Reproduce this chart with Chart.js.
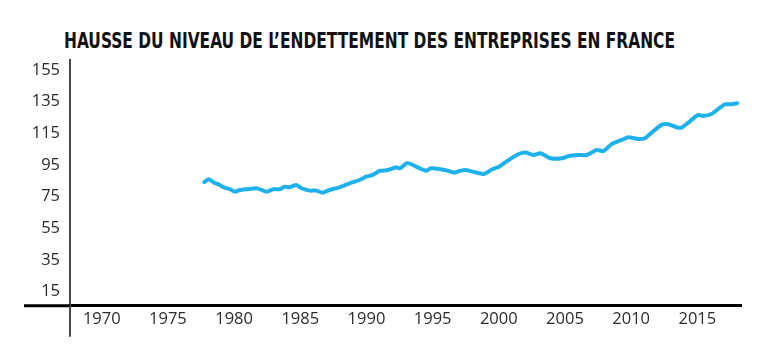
<!DOCTYPE html>
<html><head><meta charset="utf-8">
<script src="https://cdn.jsdelivr.net/npm/chart.js@4"></script>
<style>
html,body{margin:0;padding:0;background:#fff;}
#wrap{position:relative;width:768px;height:352px;overflow:hidden;}
#title{position:absolute;left:64px;top:30px;font-family:"Liberation Sans Narrow","DejaVu Sans Condensed",sans-serif;font-weight:bold;font-size:21.5px;color:#111;white-space:nowrap;transform-origin:0 0;line-height:1;}
canvas{position:absolute;left:0;top:0;}
</style></head><body>
<div id="wrap"><div id="title">HAUSSE DU NIVEAU DE L’ENDETTEMENT DES ENTREPRISES EN FRANCE</div><canvas id="c" width="768" height="352"></canvas></div>
<script>
const years = [1977.74,1978.07,1978.56,1978.82,1979.19,1979.69,1980.07,1980.44,1980.95,1981.70,1982.08,1982.45,1982.96,1983.45,1983.83,1984.21,1984.71,1985.09,1985.71,1986.22,1986.67,1987.22,1987.97,1988.85,1989.47,1989.98,1990.48,1990.98,1991.61,1992.23,1992.54,1993.04,1993.36,1993.87,1994.49,1994.87,1995.49,1996.13,1996.62,1997.13,1997.50,1998.01,1998.88,1999.51,2000.01,2000.76,2001.51,2002.02,2002.64,2003.15,2003.90,2004.78,2005.28,2006.03,2006.66,2007.41,2007.91,2008.54,2009.29,2009.79,2010.54,2011.05,2011.55,2012.30,2012.80,2013.43,2013.81,2014.31,2015.06,2015.43,2016.07,2016.56,2017.07,2017.57,2018.02];
const debtLevel = [84.1,86.0,83.4,82.8,80.9,79.7,78.1,79.2,79.7,80.3,79.2,78.1,79.7,79.7,81.3,80.9,82.4,80.3,78.8,78.8,77.5,79.2,80.9,83.8,85.5,87.6,88.7,91.2,91.8,93.5,92.9,96.1,95.6,93.5,91.4,92.9,92.5,91.4,90.1,91.4,91.8,90.8,89.3,92.3,93.9,98.2,101.9,102.8,101.3,102.4,99.2,99.2,100.7,101.3,101.3,104.5,103.8,108.3,110.8,112.5,111.4,111.9,115.4,120.3,120.7,118.8,118.6,121.7,126.6,126.0,127.2,130.2,133.3,133.3,134.0];
const xTickLabels = [1970,1975,1980,1985,1990,1995,2000,2005,2010,2015];
const yTickLabels = [15,35,55,75,95,115,135,155];
const xRange = [1967.6, 2018.3];
const yRange = [6.1, 161.3];

const axisExtension = {
  id:'axisExtension',
  afterDraw(chart){
    const c = chart.ctx, a = chart.chartArea;
    c.save();
    c.strokeStyle = '#000'; c.lineWidth = 3;
    c.beginPath(); c.moveTo(24, a.bottom); c.lineTo(a.left, a.bottom); c.stroke();
    c.strokeStyle = '#4a4a4a'; c.lineWidth = 2;
    c.beginPath(); c.moveTo(a.left, a.bottom); c.lineTo(a.left, a.bottom + 31); c.stroke();
    c.restore();
  }
};

const tickFont = {family:'"Open Sans", sans-serif', size:16.5};
new Chart(document.getElementById('c'), {
  type:'line',
  data:{datasets:[{
    data: years.map((x,i)=>({x:x, y:debtLevel[i]})),
    borderColor:'#1fb1ec', borderWidth:4, pointRadius:0, tension:0.2,
    borderCapStyle:'round', borderJoinStyle:'round', fill:false
  }]},
  options:{
    responsive:false, animation:false, devicePixelRatio:1,
    layout:{padding:{top:60,right:27,bottom:0,left:0}},
    plugins:{legend:{display:false}, tooltip:{enabled:false}, title:{display:false}},
    scales:{
      x:{
        type:'linear', min:xRange[0], max:xRange[1],
        grid:{display:false, drawTicks:false},
        border:{display:true, color:'#000', width:3},
        afterBuildTicks:s=>{ s.ticks = xTickLabels.map(v=>({value:v})); },
        afterFit:s=>{ s.height = 46.3; },
        ticks:{padding:4, color:'#2b2b2b', font:tickFont, autoSkip:false, maxRotation:0, callback:v=>String(v)}
      },
      y:{
        type:'linear', min:yRange[0], max:yRange[1],
        grid:{display:false, drawTicks:false},
        border:{display:true, color:'#4a4a4a', width:2},
        afterBuildTicks:s=>{ s.ticks = yTickLabels.map(v=>({value:v})); },
        afterFit:s=>{ s.width = 70; },
        ticks:{padding:10, color:'#2b2b2b', font:tickFont, callback:v=>String(v)}
      }
    }
  },
  plugins:[axisExtension]
});

function fitTitle(){
  const t = document.getElementById('title');
  t.style.transform = 'none';
  const w = t.getBoundingClientRect().width;
  t.style.transform = 'scaleX(' + (611 / w) + ')';
}
fitTitle();
if (document.fonts && document.fonts.ready) document.fonts.ready.then(fitTitle);
</script>
</body></html>
